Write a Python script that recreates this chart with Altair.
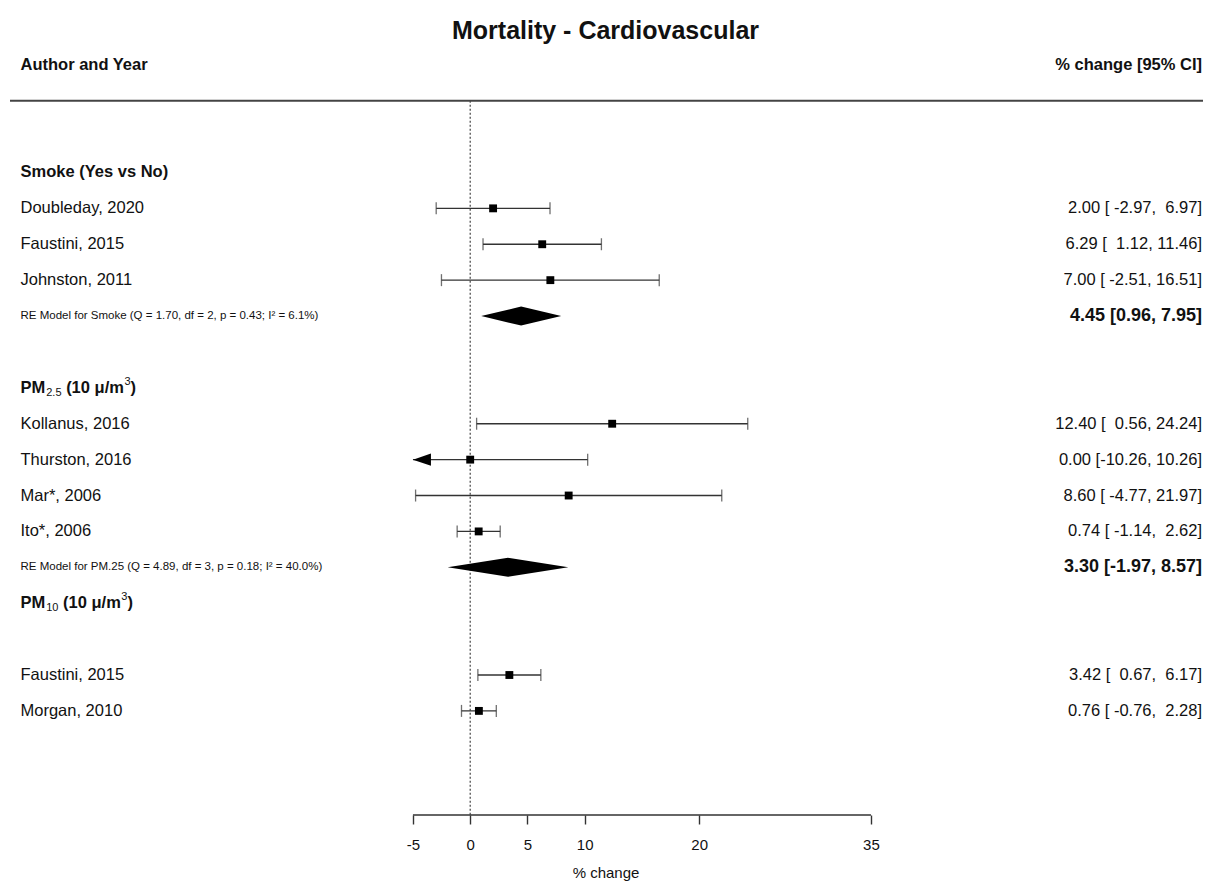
import altair as alt
import pandas as pd

# ---------------- data ----------------
TITLE = "Mortality - Cardiovascular"
HEAD_LEFT = "Author and Year"
HEAD_RIGHT = "% change [95% CI]"
X_TITLE = "% change"
X_TICKS = [-5, 0, 5, 10, 20, 35]

STUDY = ["Doubleday, 2020", "Faustini, 2015", "Johnston, 2011",
         "Kollanus, 2016", "Thurston, 2016", "Mar*, 2006", "Ito*, 2006",
         "Faustini, 2015", "Morgan, 2010"]
STUDY_ROW = [15, 14, 13, 9, 8, 7, 6, 2, 1]
EST = [2.00, 6.29, 7.00, 12.40, 0.00, 8.60, 0.74, 3.42, 0.76]
LOWER = [-2.97, 1.12, -2.51, 0.56, -10.26, -4.77, -1.14, 0.67, -0.76]
UPPER = [6.97, 11.46, 16.51, 24.24, 10.26, 21.97, 2.62, 6.17, 2.28]

# group headings, split into (text, kind) pieces: main / sub(script) / sup(erscript)
GROUP_PARTS = [
    [("Smoke (Yes vs No)", "main")],
    [("PM", "main"), ("2.5", "sub"), (" (10 \u03bc/m", "main"), ("3", "sup"), (")", "main")],
    [("PM", "main"), ("10", "sub"), (" (10 \u03bc/m", "main"), ("3", "sup"), (")", "main")],
]
GROUP_ROW = [16, 10, 4]

MODEL = ["RE Model for Smoke (Q = 1.70, df = 2, p = 0.43; I\u00b2 = 6.1%)",
         "RE Model for PM.25 (Q = 4.89, df = 3, p = 0.18; I\u00b2 = 40.0%)"]
MODEL_ROW = [12, 5]
MODEL_EST = [4.45, 3.30]
MODEL_LOWER = [0.96, -1.97]
MODEL_UPPER = [7.95, 8.57]

HEADER_ROW = 19
RULE_ROW = 18

# ---------------- layout (styles) ----------------
FONT = "Liberation Sans"
W, H = 1195, 761
PX_PER_UNIT = 11.45
ZERO_PX = 462.2
X_DOM = [-ZERO_PX / PX_PER_UNIT, (W - ZERO_PX) / PX_PER_UNIT]
Y_DOM = [-1.9, 19.3]
DIAMOND_HALF = 9.5 / (H / (Y_DOM[1] - Y_DOM[0]))
LEFT_PX = 12.5
RIGHT_PX = 1194
INK = "#111111"
LINE = "#333333"
LABEL_SIZE = 16.5
SCRIPT_SIZE = 11
NBSP = "\u00a0"

# approximate Arial/Liberation advance widths (per 1000 em) for heading pieces
BOLD_W = {"P": 667, "M": 833, " ": 278, "(": 333, ")": 333, "1": 556, "0": 556,
          "\u03bc": 611, "/": 278, "m": 889}
REG_W = {"0": 556, "1": 556, "2": 556, "3": 556, "5": 556, ".": 278, " ": 278}
PIECE_STYLE = {
    "main": dict(size=LABEL_SIZE, weight="bold", dy=0, gap=0.0),
    "sub": dict(size=SCRIPT_SIZE, weight="normal", dy=5, gap=1.0),
    "sup": dict(size=SCRIPT_SIZE, weight="normal", dy=-6, gap=0.5),
}

xs = alt.Scale(domain=X_DOM, nice=False, zero=False)
ys = alt.Scale(domain=Y_DOM, nice=False, zero=False)
X_AXIS = alt.Axis(values=X_TICKS, domain=False, grid=False, tickSize=9,
                  tickWidth=1.4, tickColor=LINE, labelFont=FONT,
                  labelFontSize=15, labelColor=INK, labelPadding=13,
                  labelExpr="'' + datum.value", labelOverlap=False,
                  labelFlush=False, title=X_TITLE, titleFont=FONT,
                  titleFontSize=15, titleFontWeight="normal",
                  titleColor=INK, titlePadding=13)


def X(field):
    return alt.X(f"{field}:Q", scale=xs, axis=X_AXIS)


def Y(field="row"):
    return alt.Y(f"{field}:Q", scale=ys, axis=None)


def fmt(e, lo, hi):
    return f"{e:.2f} [{lo:6.2f}, {hi:5.2f}]".replace(" ", NBSP)


alim_lo, alim_hi = X_TICKS[0], X_TICKS[-1]

studies = pd.DataFrame({"label": STUDY, "row": STUDY_ROW, "est": EST,
                        "lo": LOWER, "hi": UPPER})
studies["lo_draw"] = studies["lo"].clip(lower=alim_lo)
studies["hi_draw"] = studies["hi"].clip(upper=alim_hi)
studies["ci"] = [fmt(e, l, h) for e, l, h in zip(EST, LOWER, UPPER)]

caps = pd.concat([
    studies.loc[studies["lo"] >= alim_lo, ["row", "lo"]].rename(columns={"lo": "x"}),
    studies.loc[studies["hi"] <= alim_hi, ["row", "hi"]].rename(columns={"hi": "x"}),
])
arrows_left = studies.loc[studies["lo"] < alim_lo, ["row"]].assign(x=alim_lo)

models = pd.DataFrame({"label": MODEL, "row": MODEL_ROW, "est": MODEL_EST,
                       "lo": MODEL_LOWER, "hi": MODEL_UPPER})
models["ci"] = [f"{e:.2f} [{l:.2f}, {h:.2f}]" for e, l, h in
                zip(MODEL_EST, MODEL_LOWER, MODEL_UPPER)]
diamond = pd.concat([
    pd.DataFrame({"model": models["label"], "x": models["lo"],
                  "y1": models["row"], "y2": models["row"]}),
    pd.DataFrame({"model": models["label"], "x": models["est"],
                  "y1": models["row"] - DIAMOND_HALF,
                  "y2": models["row"] + DIAMOND_HALF}),
    pd.DataFrame({"model": models["label"], "x": models["hi"],
                  "y1": models["row"], "y2": models["row"]}),
])

header = pd.DataFrame({"left": [HEAD_LEFT], "right": [HEAD_RIGHT], "row": [HEADER_ROW]})
top_rule = pd.DataFrame({"row": [RULE_ROW]})
zero = pd.DataFrame({"x": [0], "row": [RULE_ROW]})
axis_line = pd.DataFrame({"x": [alim_lo], "x2": [alim_hi]})

# ---------------- layers ----------------
l_axis = alt.Chart(axis_line).mark_rule(color=LINE, strokeWidth=1.4).encode(
    x=X("x"), x2="x2:Q", y=alt.value(H))

l_zero = alt.Chart(zero).mark_rule(color="#444444", strokeWidth=1.2,
                                   strokeDash=[2, 2]).encode(
    x=X("x"), y=Y(), y2=alt.value(H))

l_top = alt.Chart(top_rule).mark_rule(color="#444444", strokeWidth=2).encode(
    x=alt.value(2), x2=alt.value(W), y=Y())

l_ci = alt.Chart(studies).mark_rule(color=LINE, strokeWidth=1.3).encode(
    x=X("lo_draw"), x2="hi_draw:Q", y=Y())

l_caps = alt.Chart(caps).mark_tick(orient="vertical", color=LINE, size=12,
                                   thickness=1.3).encode(x=X("x"), y=Y())

l_arrow = alt.Chart(arrows_left).mark_point(
    shape="M 0 0 L 2 -0.68 L 2 0.68 Z", size=324, filled=True,
    color="#000000", opacity=1).encode(x=X("x"), y=Y())

l_sq = alt.Chart(studies).mark_square(size=62, color="#000000",
                                      opacity=1).encode(x=X("est"), y=Y())

l_diamond = alt.Chart(diamond).mark_area(color="#000000", opacity=1,
                                         interpolate="linear").encode(
    x=X("x"), y=Y("y1"), y2="y2:Q", detail="model:N")

l_study_txt = alt.Chart(studies).mark_text(
    align="left", baseline="middle", font=FONT, fontSize=LABEL_SIZE,
    color=INK).encode(x=alt.value(LEFT_PX), y=Y(), text="label:N")

l_study_ci = alt.Chart(studies).mark_text(
    align="right", baseline="middle", font=FONT, fontSize=LABEL_SIZE,
    color=INK).encode(x=alt.value(RIGHT_PX), y=Y(), text="ci:N")

# group headings built piece by piece (for sub/superscripts)
group_layers = []
for parts, row in zip(GROUP_PARTS, GROUP_ROW):
    cursor = 0.0
    for text, kind in parts:
        st = PIECE_STYLE[kind]
        table = BOLD_W if st["weight"] == "bold" else REG_W
        cursor += st["gap"]
        stripped = text.lstrip(" ")
        cursor += (len(text) - len(stripped)) * table[" "] * st["size"] / 1000.0
        group_layers.append(
            alt.Chart(pd.DataFrame({"t": [stripped], "row": [row]})).mark_text(
                align="left", baseline="middle", font=FONT,
                fontSize=st["size"], fontWeight=st["weight"], dy=st["dy"],
                color=INK).encode(x=alt.value(LEFT_PX + cursor), y=Y(),
                                  text="t:N"))
        cursor += sum(table.get(c, 556) for c in stripped) * st["size"] / 1000.0

l_model_txt = alt.Chart(models).mark_text(
    align="left", baseline="middle", font=FONT, fontSize=11.5,
    color=INK).encode(x=alt.value(LEFT_PX), y=Y(), text="label:N")

l_model_ci = alt.Chart(models).mark_text(
    align="right", baseline="middle", font=FONT, fontSize=18,
    fontWeight="bold", color=INK).encode(x=alt.value(RIGHT_PX), y=Y(),
                                         text="ci:N")

l_head_l = alt.Chart(header).mark_text(
    align="left", baseline="middle", font=FONT, fontSize=LABEL_SIZE,
    fontWeight="bold", color=INK).encode(x=alt.value(LEFT_PX), y=Y(),
                                         text="left:N")

l_head_r = alt.Chart(header).mark_text(
    align="right", baseline="middle", font=FONT, fontSize=LABEL_SIZE,
    fontWeight="bold", color=INK).encode(x=alt.value(RIGHT_PX), y=Y(),
                                         text="right:N")

chart = alt.layer(
    l_zero, l_top, l_axis, l_ci, l_caps, l_arrow, l_sq, l_diamond,
    l_study_txt, l_study_ci, *group_layers, l_model_txt, l_model_ci,
    l_head_l, l_head_r,
).properties(
    width=W, height=H,
    background="white",
    title=alt.Title(TITLE, font=FONT, fontSize=25, fontWeight="bold",
                    color=INK, anchor="middle", offset=10),
    autosize=alt.AutoSizeParams(type="none"),
    padding={"left": 0, "top": 46, "right": 0, "bottom": 66},
).configure_view(stroke=None)

chart.save("out.html", embed_options={"renderer": "svg", "actions": False})
